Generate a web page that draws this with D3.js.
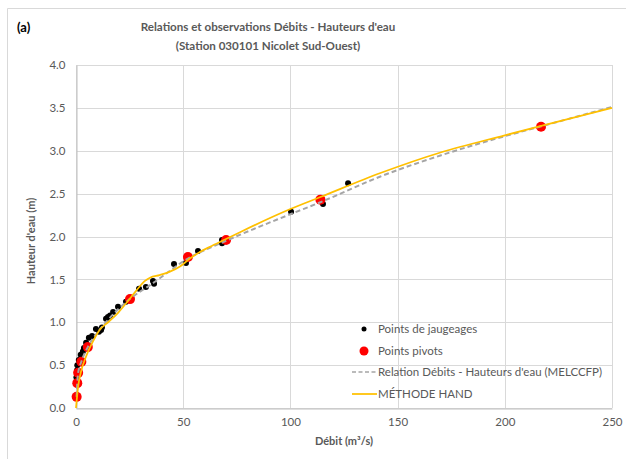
<!DOCTYPE html>
<html><head><meta charset="utf-8">
<script src="https://cdn.jsdelivr.net/npm/d3@7"></script>
<style>
body{margin:0;background:#fff;}
text{font-family:Lato,"Open Sans",sans-serif;}
</style></head>
<body><svg id="c" width="626" height="459"></svg>
<script>
// Data
const jaugQ = [0.2,0.5,0.6,1.3,2.2,3.2,3.7,4.7,6.0,7.5,9.3,10.7,11.7,12.1,14.0,14.9,15.9,17.3,19.6,23.3,29.4,32.6,35.9,36.4,45.7,51.3,56.9,68.1,68.1,100.3,115.2,126.9];
const jaugH = [0.36,0.44,0.50,0.56,0.62,0.66,0.70,0.76,0.82,0.84,0.92,0.89,0.91,0.94,1.04,1.06,1.08,1.12,1.18,1.24,1.39,1.41,1.48,1.45,1.68,1.69,1.83,1.92,1.96,2.29,2.38,2.62];
const pivotQ = [0.3,0.6,1.0,2.5,5.5,25.2,52.2,70,114,216.9];
const pivotH = [0.13,0.29,0.41,0.54,0.71,1.27,1.76,1.96,2.43,3.28];
const melQ = [0.3,0.6,1,2.5,5.5,10,15,25,35,52,70,100,114,142,170,200,217,250];
const melH = [0.13,0.29,0.41,0.54,0.71,0.88,1.03,1.27,1.44,1.74,1.95,2.26,2.40,2.70,2.945,3.17,3.285,3.51];
const handQ = [0,1,2.3,4.7,8,11,15,19.6,23,28.5,32,34.5,39,43.8,48.5,53,57.8,62.5,70,76.5,100,114,142,170,200,217,250];
const handH = [0,0.25,0.42,0.60,0.78,0.91,1.0,1.11,1.21,1.38,1.48,1.52,1.55,1.59,1.65,1.74,1.82,1.88,1.97,2.05,2.32,2.46,2.74,2.98,3.18,3.29,3.50];
const xTicks = [0,50,100,150,200,250];
const yTicks = [0,0.5,1,1.5,2,2.5,3,3.5,4];
const legendLabels = ["Points de jaugeages","Points pivots","Relation Débits - Hauteurs d'eau (MELCCFP)","MÉTHODE HAND"];

const svg = d3.select("#c");
const L=76, R=612, T=65, B=408;
const x = d3.scaleLinear().domain([0,250]).range([L,R]);
const y = d3.scaleLinear().domain([0,4]).range([B,T]);
const grey="#595959";

// chart border
svg.append("path").attr("d","M7.5,470V8.5H640").attr("fill","none").attr("stroke","#D9D9D9").attr("stroke-width",1);

// gridlines
svg.append("g").selectAll("line.h").data(yTicks).join("line")
  .attr("x1",L).attr("x2",R).attr("y1",d=>Math.round(y(d))+0.5).attr("y2",d=>Math.round(y(d))+0.5)
  .attr("stroke","#D9D9D9");
svg.append("g").selectAll("line.v").data(xTicks).join("line")
  .attr("y1",T).attr("y2",B).attr("x1",d=>Math.round(x(d))+0.5).attr("x2",d=>Math.round(x(d))+0.5)
  .attr("stroke","#D9D9D9");

// axes
const xa = svg.append("g").attr("transform",`translate(0,${Math.round(B)+0.5})`)
  .call(d3.axisBottom(x).tickValues(xTicks).tickSize(0).tickPadding(9).tickFormat(d3.format("d")));
xa.select(".domain").attr("stroke","#BFBFBF");
xa.selectAll("text").attr("fill",grey).attr("font-size",11.5).attr("font-family","Lato");
const ya = svg.append("g").attr("transform",`translate(${Math.round(L)+0.5},0)`)
  .call(d3.axisLeft(y).tickValues(yTicks).tickSize(0).tickPadding(11).tickFormat(d3.format(".1f")));
ya.select(".domain").attr("stroke","#BFBFBF");
ya.selectAll("text").attr("fill",grey).attr("font-size",11.5).attr("font-family","Lato");

// points
const jaug = jaugQ.map((q,i)=>[q,jaugH[i]]);
const piv = pivotQ.map((q,i)=>[q,pivotH[i]]);
svg.append("g").selectAll("circle").data(jaug).join("circle")
  .attr("cx",d=>x(d[0])).attr("cy",d=>y(d[1])).attr("r",3).attr("fill","#000");
svg.append("g").selectAll("circle").data(piv).join("circle")
  .attr("cx",d=>x(d[0])).attr("cy",d=>y(d[1])).attr("r",5).attr("fill","#FF0000");

// lines
const line = d3.line().x(d=>x(d[0])).y(d=>y(d[1])).curve(d3.curveMonotoneX);
svg.append("path").datum(melQ.map((q,i)=>[q,melH[i]])).attr("d",line)
  .attr("fill","none").attr("stroke","#A5A5A5").attr("stroke-width",2).attr("stroke-dasharray","5,3");
svg.append("path").datum(handQ.map((q,i)=>[q,handH[i]])).attr("d",line)
  .attr("fill","none").attr("stroke","#FFC000").attr("stroke-width",1.75);

// titles
svg.append("text").attr("x",17).attr("y",32).text("(a)").attr("font-weight","bold").attr("font-size",13).attr("fill","#000");
svg.append("text").attr("x",268).attr("y",31).attr("text-anchor","middle").attr("font-weight","bold").attr("font-size",11.6).attr("fill",grey)
  .text("Relations et observations Débits - Hauteurs d'eau");
svg.append("text").attr("x",268).attr("y",50).attr("text-anchor","middle").attr("font-weight","bold").attr("font-size",11.6).attr("fill",grey)
  .text("(Station 030101 Nicolet Sud-Ouest)");
svg.append("text").attr("x",344).attr("y",445).attr("text-anchor","middle").attr("font-weight","bold").attr("font-size",11).attr("fill",grey)
  .text("Débit (m³/s)");
svg.append("text").attr("transform","translate(35,241) rotate(-90)").attr("text-anchor","middle").attr("font-weight","bold").attr("font-size",11).attr("fill",grey)
  .text("Hauteur d'eau (m)");

// legend
const lg = svg.append("g");
const ly = [329,351,372,394];
lg.append("circle").attr("cx",364).attr("cy",ly[0]).attr("r",2.5).attr("fill","#000");
lg.append("circle").attr("cx",364).attr("cy",ly[1]).attr("r",4.5).attr("fill","#FF0000");
lg.append("line").attr("x1",352).attr("x2",377).attr("y1",ly[2]).attr("y2",ly[2]).attr("stroke","#A5A5A5").attr("stroke-width",1.5).attr("stroke-dasharray","4,2.5");
lg.append("line").attr("x1",352).attr("x2",377).attr("y1",ly[3]).attr("y2",ly[3]).attr("stroke","#FFC000").attr("stroke-width",1.75);
lg.selectAll("text").data(legendLabels).join("text")
  .attr("x",378).attr("y",(d,i)=>ly[i]+4).text(d=>d).attr("font-size",11.5).attr("fill",grey);
</script></body></html>
